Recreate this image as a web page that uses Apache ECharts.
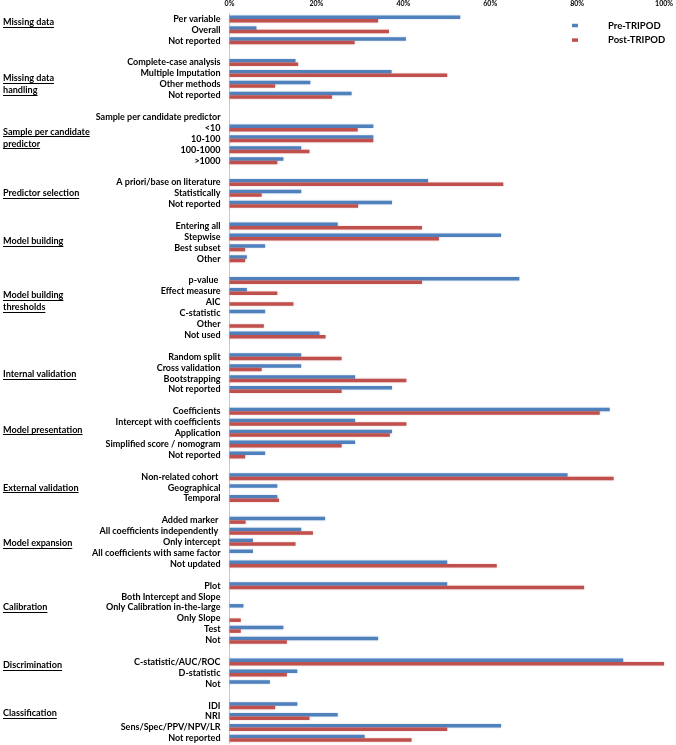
<!DOCTYPE html>
<html>
<head>
<meta charset="utf-8">
<script src="https://cdn.jsdelivr.net/npm/echarts@6/dist/echarts.min.js"></script>
<style>
html,body{margin:0;padding:0;background:#fff;}
#c{width:676px;height:745px;}
</style>
</head>
<body>
<div id="c"></div>
<script>
const categories = [
  'Per variable','Overall','Not reported','',
  'Complete-case analysis','Multiple Imputation','Other methods','Not reported','',
  'Sample per candidate predictor','<10','10-100','100-1000','>1000','',
  'A priori/base on literature','Statistically','Not reported','',
  'Entering all','Stepwise','Best subset','Other','',
  'p-value ','Effect measure','AIC','C-statistic','Other','Not used','',
  'Random split','Cross validation','Bootstrapping','Not reported','',
  'Coefficients','Intercept with coefficients','Application','Simplified score / nomogram','Not reported','',
  'Non-related cohort ','Geographical','Temporal','',
  'Added marker ','All coefficients independently ','Only intercept','All coefficients with same factor','Not updated','',
  'Plot','Both Intercept and Slope','Only Calibration in-the-large','Only Slope','Test','Not','',
  'C-statistic/AUC/ROC','D-statistic','Not','',
  'IDI','NRI','Sens/Spec/PPV/NPV/LR','Not reported'
];

const preTripod = [
  53.1, 6.2, 40.6, null,
  15.2, 37.3, 18.6, 28.1, null,
  null, 33.1, 33.1, 16.5, 12.4, null,
  45.7, 16.5, 37.4, null,
  24.9, 62.5, 8.2, 4.0, null,
  66.7, 4.0, 0, 8.2, 0, 20.7, null,
  16.5, 16.5, 28.9, 37.4, null,
  87.5, 28.9, 37.4, 28.9, 8.2, null,
  77.8, 11.0, 11.0, null,
  22.0, 16.5, 5.4, 5.4, 50.1, null,
  50.1, 0, 3.2, 0, 12.4, 34.2, null,
  90.6, 15.6, 9.3, null,
  15.6, 24.9, 62.5, 31.1
];

const postTripod = [
  34.2, 36.7, 28.8, null,
  15.8, 50.1, 10.5, 23.6, null,
  null, 29.5, 33.1, 18.4, 11.0, null,
  63.0, 7.4, 29.6, null,
  44.3, 48.2, 3.6, 3.6, null,
  44.3, 11.0, 14.7, 0, 7.9, 22.1, null,
  25.8, 7.4, 40.7, 25.8, null,
  85.2, 40.7, 36.9, 25.8, 3.6, null,
  88.4, 0, 11.4, null,
  3.7, 19.2, 15.2, 0, 61.5, null,
  81.6, 0, 0, 2.6, 2.6, 13.2, null,
  100, 13.2, 0, null,
  10.5, 18.4, 50.1, 41.9
];

const seriesNames = ['Pre-TRIPOD', 'Post-TRIPOD'];
const xTicks = [0, 20, 40, 60, 80, 100];

// group headings and the row (index) they sit beside
const groupLabels = [
  'Missing data', 'Missing data\nhandling', 'Sample per candidate\npredictor',
  'Predictor selection', 'Model building', 'Model building\nthresholds',
  'Internal validation', 'Model presentation', 'External validation',
  'Model expansion', 'Calibration', 'Discrimination', 'Classification'
];
const groupRows = [0.3, 6.0, 10.9, 16.0, 20.4, 25.9, 32.6, 37.7, 43.0, 48.1, 54.0, 59.3, 63.7];

const FONT = 'Lato, "Open Sans", sans-serif';
const BLUE = '#4F81BD';
const RED = '#C0504D';

const chart = echarts.init(document.getElementById('c'), null, {renderer: 'canvas'});

const option = {
  animation: false,
  backgroundColor: '#ffffff',
  grid: {left: 229.5, right: 9.3, top: 13.5, bottom: 1.2, containLabel: false},
  legend: {
    orient: 'vertical',
    left: 567, top: 15,
    itemWidth: 6, itemHeight: 3.5, itemGap: 3.6,
    icon: 'rect',
    textStyle: {fontFamily: FONT, fontWeight: 'bold', fontSize: 9.5, color: '#000', lineHeight: 11, padding: [0, 0, 0, 25]},
    data: seriesNames
  },
  xAxis: {
    type: 'value', position: 'top', min: xTicks[0], max: xTicks[xTicks.length - 1], interval: 20,
    axisLine: {show: false}, axisTick: {show: false}, splitLine: {show: false},
    axisLabel: {formatter: '{value}%', fontFamily: FONT, fontWeight: 'bold', fontSize: 7, color: '#000', margin: 6}
  },
  yAxis: {
    type: 'category', inverse: true, data: categories,
    axisLine: {show: true, lineStyle: {color: '#c8c8c8', width: 1}},
    axisTick: {show: false},
    axisLabel: {interval: 0, fontFamily: FONT, fontWeight: 'bold', fontSize: 9, color: '#000', margin: 9}
  },
  series: [
    {name: seriesNames[0], type: 'bar', data: preTripod, barWidth: 3.5, barGap: '0%',
     itemStyle: {color: BLUE, shadowBlur: 2, shadowColor: 'rgba(79,129,189,0.35)'}},
    {name: seriesNames[1], type: 'bar', data: postTripod, barWidth: 3.5, barGap: '0%',
     itemStyle: {color: RED, shadowBlur: 2, shadowColor: 'rgba(192,80,77,0.35)'}}
  ]
};
chart.setOption(option);

// group headings with underline
const y0 = chart.convertToPixel({yAxisIndex: 0}, 0);
const y1 = chart.convertToPixel({yAxisIndex: 0}, 1);
const step = y1 - y0;
const gFontSize = 9.1;
const gFont = 'bold ' + gFontSize + 'px ' + FONT;
const lh = 12.3;
const ctx = document.createElement('canvas').getContext('2d');
ctx.font = gFont;
const elements = [];
groupLabels.forEach((lab, i) => {
  const cy = y0 + groupRows[i] * step;
  const lines = lab.split('\n');
  const n = lines.length;
  lines.forEach((ln, j) => {
    const ly = cy - (n * lh) / 2 + j * lh + lh / 2;
    elements.push({
      type: 'text', silent: true,
      style: {text: ln, x: 3, y: ly, font: gFont, fill: '#000', verticalAlign: 'middle', align: 'left'}
    });
    const w = ctx.measureText(ln).width;
    elements.push({
      type: 'line', silent: true,
      shape: {x1: 3, y1: Math.round(ly + 4.5) + 0.5, x2: 3 + w, y2: Math.round(ly + 4.5) + 0.5},
      style: {stroke: '#000', lineWidth: 1}
    });
  });
});
chart.setOption({graphic: {elements: elements}});
</script>
</body>
</html>
